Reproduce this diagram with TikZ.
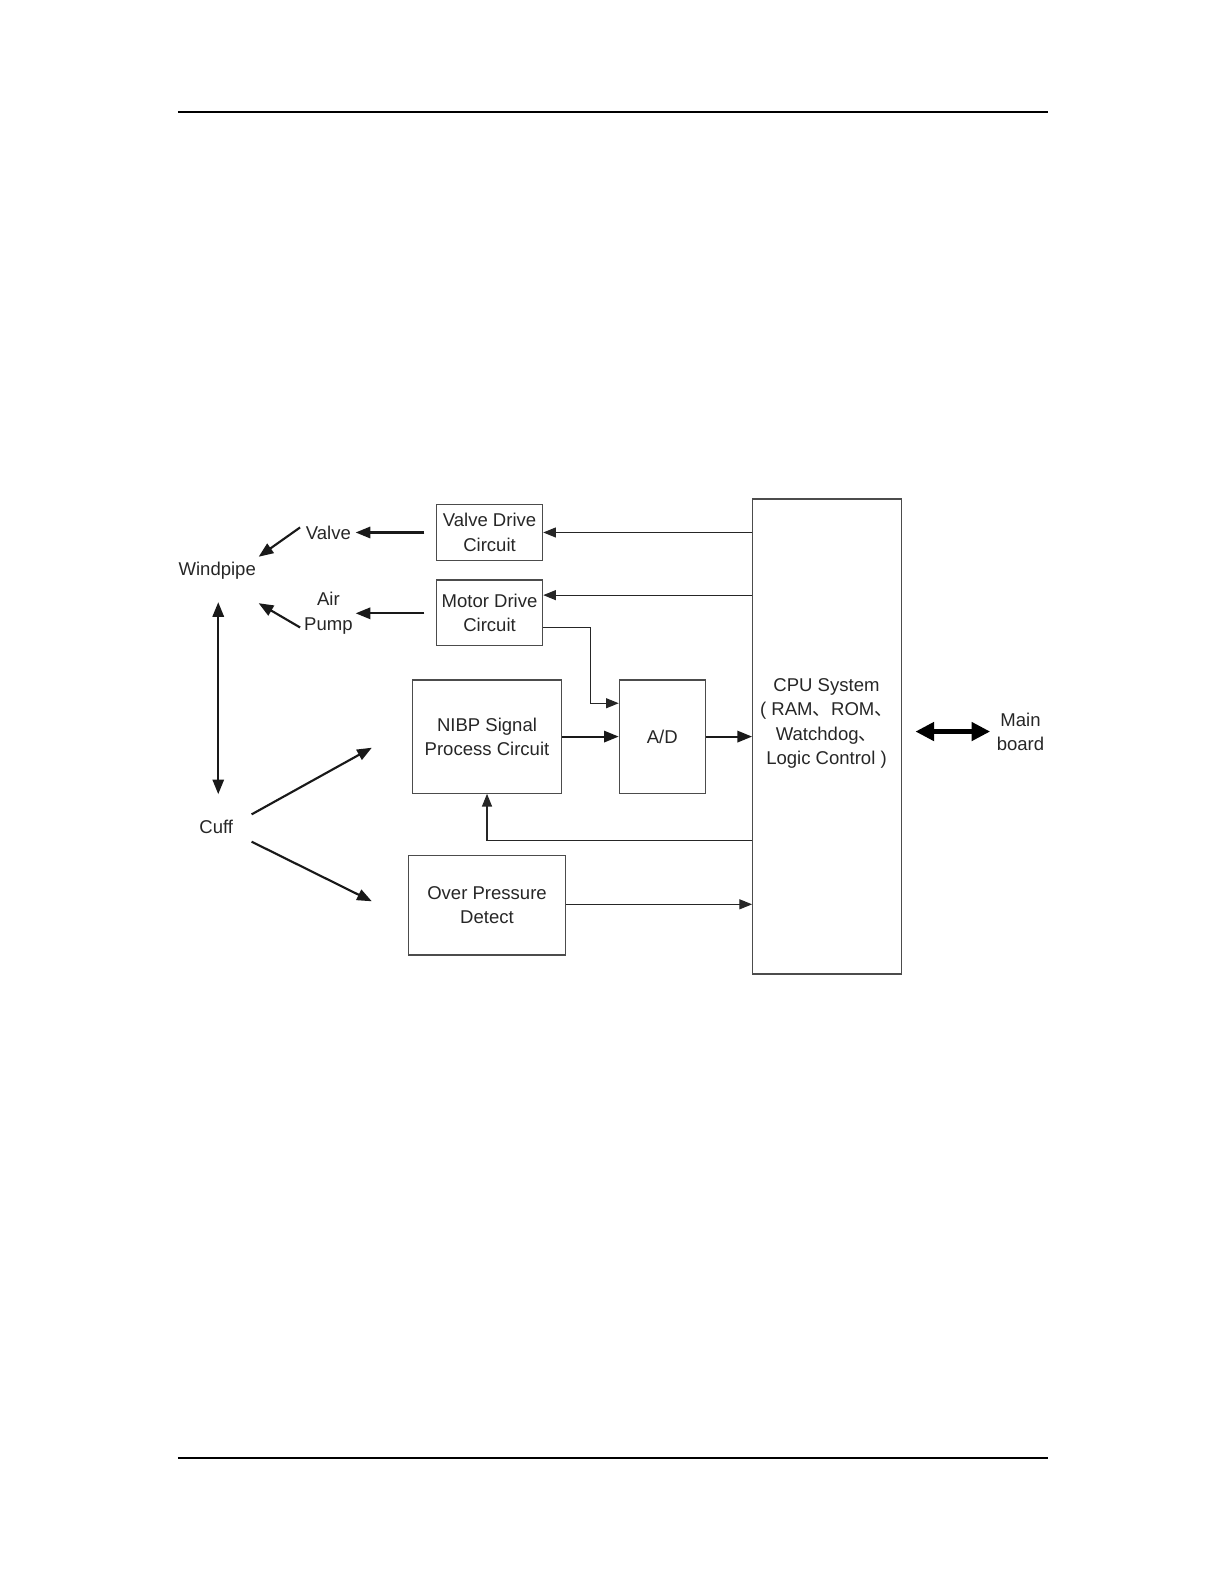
\documentclass[tikz,border=0pt]{standalone}
\usepackage{fontspec}
\setmainfont{Liberation Sans}
\newfontfamily\cjk{Noto Sans CJK SC}
\usetikzlibrary{arrows.meta,calc}
\begin{document}
\begin{tikzpicture}[x=0.7578pt,y=-0.7578pt,
  font=\fontsize{13.9}{18.2}\selectfont,
  every node/.style={text=black!85},
  box/.style={draw=black!70, line width=1pt, align=center, inner sep=0pt},
  lbl/.style={align=center, inner sep=0pt},
  thinarrow/.style={draw=black!85, line width=0.8pt, -{Triangle[length=9.5pt,width=7.5pt]}},
  thickarrow/.style={draw=black!90, line width=1.6pt, -{Triangle[length=11pt,width=8.5pt]}},
  rulestyle/.style={draw=black, line width=1.3pt}]
\useasboundingbox (0,0) rectangle (1211.4,1567.7);
% page rules
\coordinate (rt1) at (176,111); \coordinate (rt2) at (1037,111);
\coordinate (rb1) at (176,1443); \coordinate (rb2) at (1037,1443);
\draw[rulestyle] (rt1) -- (rt2);
\draw[rulestyle] (rb1) -- (rb2);
% boxes
\node[box, minimum width=79.57pt, minimum height=42.44pt] (vdc) at (484.5,527) {Valve Drive\\Circuit};
\node[box, minimum width=79.57pt, minimum height=49.26pt] (mdc) at (484.5,606.5) {Motor Drive\\Circuit};
\node[box, minimum width=112.15pt, minimum height=84.87pt] (nibp) at (482,729) {NIBP Signal\\Process Circuit};
\node[box, minimum width=64.41pt, minimum height=84.87pt] (ad) at (655.5,729) {A/D};
\node[box, minimum width=118.2pt, minimum height=74.27pt] (opd) at (482,896) {Over Pressure\\Detect};
\node[box, minimum width=111.4pt, minimum height=356.2pt] (cpu) at (818.5,729) {};
\node[lbl] (cputxt) at (818,716) {CPU System\\( RAM{\cjk 、}ROM{\cjk 、}\\Watchdog{\cjk 、}\\Logic Control )};
% labels
\node[lbl] (valve) at (325,527) {Valve};
\node[lbl] (windpipe) at (215,565) {Windpipe};
\node[lbl] (airpump) at (325,607) {Air\\Pump};
\node[lbl] (cuff) at (214,818) {Cuff};
\node[lbl] (mainboard) at (1010,724) {Main\\board};
% arrow endpoints
\coordinate (v1) at (420,527); \coordinate (v2) at (352,527);
\coordinate (p1) at (420,607); \coordinate (p2) at (352,607);
\coordinate (vw1) at (297,522); \coordinate (vw2) at (256,551);
\coordinate (pw1) at (297,621); \coordinate (pw2) at (256,597);
\coordinate (wc1) at (216,596); \coordinate (wc2) at (216,786);
\coordinate (cn1) at (249,806); \coordinate (cn2) at (368,740);
\coordinate (co1) at (249,833); \coordinate (co2) at (368,892);
\coordinate (mb1) at (906,724); \coordinate (mb2) at (980,724);
% left side arrows
\draw[thickarrow] (v1) -- (v2);
\draw[thickarrow] (p1) -- (p2);
\draw[thickarrow] (vw1) -- (vw2);
\draw[thickarrow] (pw1) -- (pw2);
\draw[thickarrow, {Triangle[length=11pt,width=8.5pt]}-{Triangle[length=11pt,width=8.5pt]}] (wc1) -- (wc2);
\draw[thickarrow] (cn1) -- (cn2);
\draw[thickarrow] (co1) -- (co2);
% CPU connections
\draw[thinarrow] (cpu.west |- vdc.east) -- (vdc.east);
\draw[thinarrow] (cpu.west |- {(0,589)}) -- (mdc.east |- {(0,589)});
\draw[thinarrow] (mdc.east |- {(0,621)}) -| (584,696) -- (ad.west |- {(0,696)});
\draw[thickarrow] (nibp.east) -- (ad.west);
\draw[thickarrow] (ad.east) -- (cpu.west |- ad.east);
\draw[thinarrow] (cpu.west |- {(0,832)}) -| (nibp.south);
\draw[thinarrow] (opd.east |- {(0,895)}) -- (cpu.west |- {(0,895)});
% main board
\draw[draw=black, line width=4.4pt, {Triangle[length=14pt,width=13.5pt]}-{Triangle[length=14pt,width=13.5pt]}] (mb1) -- (mb2);
\end{tikzpicture}
\end{document}
